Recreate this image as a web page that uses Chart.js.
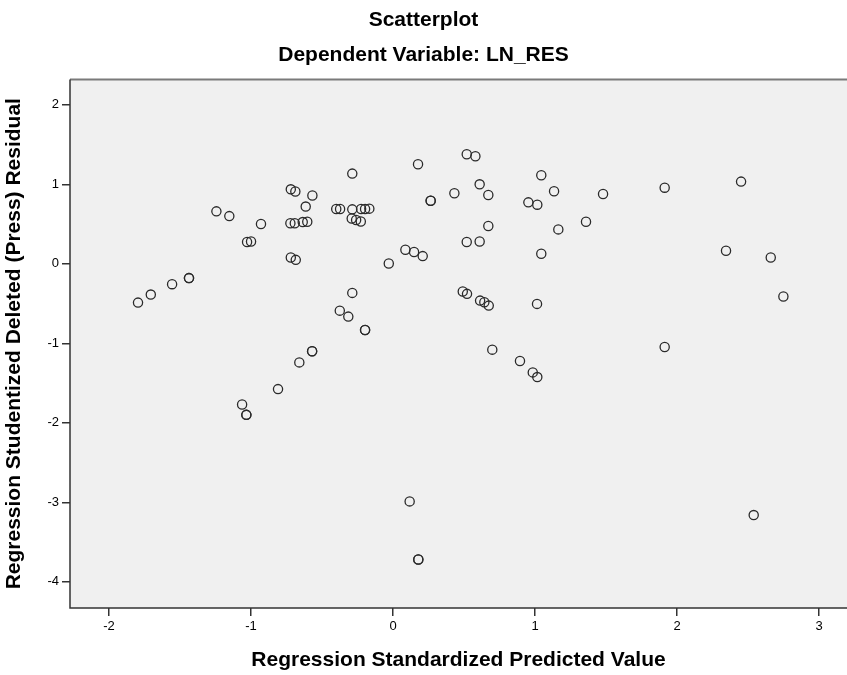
<!DOCTYPE html>
<html>
<head>
<meta charset="utf-8">
<script src="https://cdn.jsdelivr.net/npm/chart.js@4/dist/chart.umd.min.js"></script>
<style>
  html, body { margin: 0; padding: 0; background: #fff; }
  #wrap { width: 847px; height: 675px; }
</style>
</head>
<body>
<div id="wrap"><canvas id="grafica"></canvas></div>
<script>
// Regression Standardized Predicted Value
const predichos = [
  -1.796, -1.706, -1.556, -1.437, -1.437, -1.244, -1.153, -1.063, -1.033, -1.033,
  -1.028, -1.000, -0.930, -0.810, -0.723, -0.720, -0.692, -0.688, -0.685, -0.720,
  -0.660, -0.636, -0.615, -0.604, -0.570, -0.570, -0.568, -0.400, -0.375, -0.373,
  -0.315, -0.291, -0.287, -0.287, -0.287, -0.260, -0.227, -0.225, -0.197, -0.197,
  -0.197, -0.167, -0.030, 0.087, 0.117, 0.148, 0.176, 0.178, 0.178, 0.209,
  0.265, 0.265, 0.432, 0.491, 0.519, 0.519, 0.521, 0.580, 0.610, 0.610,
  0.613, 0.643, 0.671, 0.671, 0.674, 0.699, 0.894, 0.953, 0.984, 1.014,
  1.016, 1.016, 1.044, 1.044, 1.134, 1.164, 1.359, 1.479, 1.913, 1.913,
  2.345, 2.451, 2.540, 2.660, 2.749
];

// Regression Studentized Deleted (Press) Residual
const residuos = [
  -0.488, -0.387, -0.256, -0.180, -0.180, 0.660, 0.600, -1.770, -1.900, -1.900,
  0.274, 0.280, 0.500, -1.576, 0.510, 0.937, 0.510, 0.910, 0.050, 0.080,
  -1.240, 0.525, 0.720, 0.530, -1.100, -1.100, 0.860, 0.690, -0.589, 0.690,
  -0.664, 0.571, 1.135, 0.685, -0.366, 0.551, 0.533, 0.690, 0.690, -0.832,
  -0.832, 0.694, 0.004, 0.177, -2.989, 0.148, 1.252, -3.720, -3.720, 0.097,
  0.794, 0.794, 0.887, -0.349, 1.378, 0.274, -0.378, 1.353, 1.000, 0.281,
  -0.463, -0.483, 0.866, 0.475, -0.526, -1.080, -1.223, 0.773, -1.366, -0.504,
  0.744, -1.425, 1.114, 0.126, 0.912, 0.433, 0.530, 0.879, 0.958, -1.047,
  0.164, 1.034, -3.161, 0.080, -0.412
];

const ticksX = [-2, -1, 0, 1, 2, 3];
const ticksY = [2, 1, 0, -1, -2, -3, -4];

const puntos = predichos.map((x, i) => ({ x: x, y: residuos[i] }));

const fuente = "'Liberation Sans', Arial, sans-serif";

// fondo gris del area de trazado y marco
const fondoArea = {
  id: 'fondoArea',
  beforeDatasetsDraw(chart) {
    const { ctx, chartArea: a } = chart;
    ctx.save();
    ctx.fillStyle = '#f0f0f0';
    ctx.fillRect(a.left, a.top, a.right - a.left, a.bottom - a.top);
    ctx.strokeStyle = '#7a7a7a';
    ctx.lineWidth = 2;
    ctx.beginPath();
    ctx.moveTo(a.left, a.top);
    ctx.lineTo(a.right, a.top);
    ctx.stroke();
    ctx.strokeStyle = '#333';
    ctx.lineWidth = 1.5;
    ctx.beginPath();
    ctx.moveTo(a.left, a.top);
    ctx.lineTo(a.left, a.bottom);
    ctx.lineTo(a.right, a.bottom);
    ctx.stroke();
    ctx.restore();
  }
};

new Chart(document.getElementById('grafica').getContext('2d'), {
  type: 'scatter',
  data: {
    datasets: [{
      label: 'Residuos',
      data: puntos,
      pointRadius: 4.6,
      pointBorderWidth: 1.3,
      pointBorderColor: '#2a2a2a',
      pointBackgroundColor: 'rgba(0,0,0,0)',
      pointHoverRadius: 4.6
    }]
  },
  options: {
    responsive: true,
    maintainAspectRatio: false,
    animation: false,
    layout: { autoPadding: false, padding: { left: 0, right: 0, top: 0, bottom: 0 } },
    plugins: {
      legend: { display: false },
      tooltip: { enabled: false },
      title: {
        display: true,
        text: 'Scatterplot',
        color: '#000',
        font: { family: fuente, size: 21, weight: 'bold' },
        padding: { top: 8, bottom: 9 }
      },
      subtitle: {
        display: true,
        text: 'Dependent Variable: LN_RES',
        color: '#000',
        font: { family: fuente, size: 21, weight: 'bold' },
        padding: { top: 0, bottom: 12 }
      }
    },
    scales: {
      x: {
        type: 'linear',
        min: -2.275,
        max: 3.197,
        afterBuildTicks: (s) => { s.ticks = ticksX.map(v => ({ value: v })); },
        afterFit: (s) => { s.height = 67; },
        grid: { drawOnChartArea: false, drawTicks: true, tickLength: 8, color: '#333', lineWidth: 1.5 },
        border: { display: false },
        ticks: { color: '#000', font: { family: fuente, size: 13 }, padding: 3, maxRotation: 0 },
        title: {
          display: true,
          text: 'Regression Standardized Predicted Value',
          color: '#000',
          font: { family: fuente, size: 21, weight: 'bold' },
          padding: { top: 0, bottom: 2 }
        }
      },
      y: {
        type: 'linear',
        min: -4.33,
        max: 2.32,
        afterBuildTicks: (s) => { s.ticks = ticksY.map(v => ({ value: v })); },
        afterFit: (s) => { s.width = 70; },
        grid: { drawOnChartArea: false, drawTicks: true, tickLength: 8, color: '#333', lineWidth: 1.5 },
        border: { display: false },
        ticks: { color: '#000', font: { family: fuente, size: 13 }, padding: 3 },
        title: {
          display: true,
          text: 'Regression Studentized Deleted (Press) Residual',
          color: '#000',
          font: { family: fuente, size: 21, weight: 'bold' },
          padding: { top: 2, bottom: 0 }
        }
      }
    }
  },
  plugins: [fondoArea]
});
</script>
</body>
</html>
